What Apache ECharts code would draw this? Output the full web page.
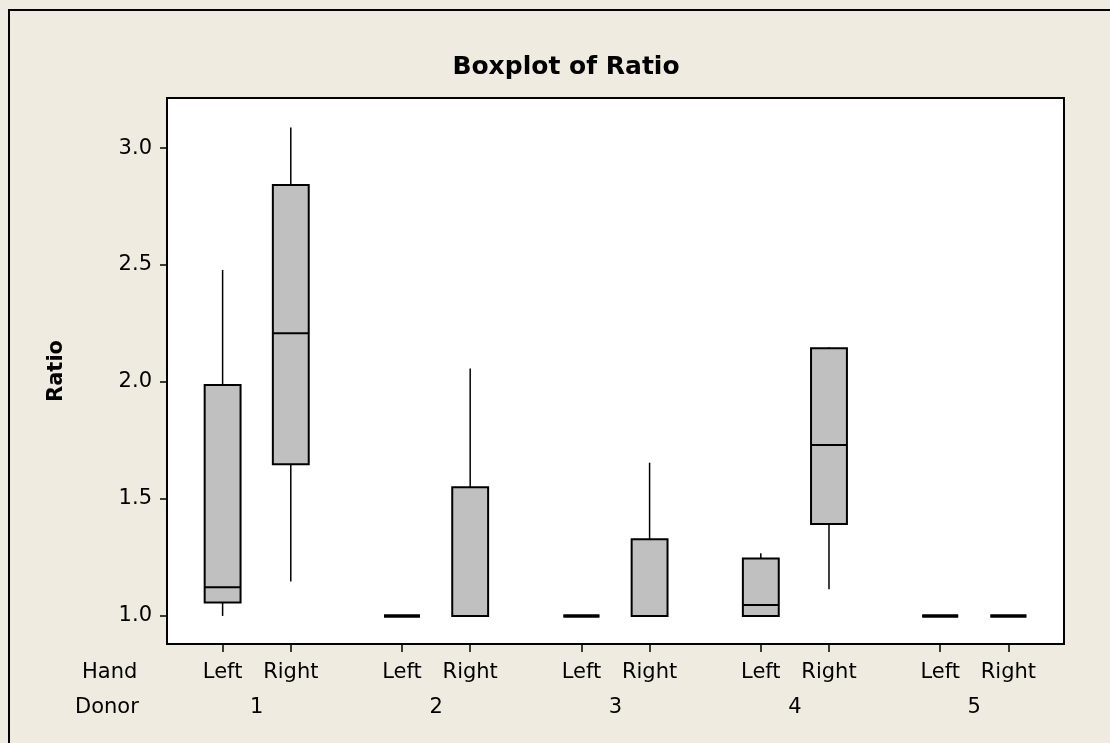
<!DOCTYPE html>
<html>
<head>
<meta charset="utf-8">
<script src="https://cdn.jsdelivr.net/npm/echarts@6/dist/echarts.min.js"></script>
<style>
  html, body { margin: 0; padding: 0; background: #EFEBE0; }
  #chart { width: 1110px; height: 743px; }
</style>
</head>
<body>
<div id="chart"></div>
<script>
// ---- data ----
const donors = ['1', '2', '3', '4', '5'];
const hands = ['Left', 'Right'];
const yTickValues = [1.0, 1.5, 2.0, 2.5, 3.0];
// order: D1 Left, D1 Right, D2 Left, D2 Right, ...
const whiskerLow  = [1.000, 1.147, 1.000, 1.000, 1.000, 1.000, 1.000, 1.114, 1.000, 1.000];
const q1Values    = [1.057, 1.648, 1.000, 1.000, 1.000, 1.000, 1.000, 1.393, 1.000, 1.000];
const medians     = [1.123, 2.208, 1.000, 1.000, 1.000, 1.000, 1.047, 1.731, 1.000, 1.000];
const q3Values    = [1.987, 2.842, 1.000, 1.550, 1.000, 1.328, 1.245, 2.144, 1.000, 1.000];
const whiskerHigh = [2.479, 3.088, 1.000, 2.058, 1.000, 1.655, 1.268, 2.149, 1.000, 1.000];

// ---- layout constants ----
const HALF = 0.19;   // offset of Left / Right from donor centre (x-axis units)
const BOX_W = 0.2;   // box width (x-axis units)
const FONT = '"DejaVu Sans", Verdana, sans-serif';

const boxData = [];
const handPositions = [];
donors.forEach((d, di) => {
  hands.forEach((h, hi) => {
    const i = di * 2 + hi;
    const x = (di + 1) + (hi === 0 ? -HALF : HALF);
    handPositions.push(x);
    boxData.push([x, whiskerLow[i], q1Values[i], medians[i], q3Values[i], whiskerHigh[i]]);
  });
});
const donorPositions = donors.map((d, i) => i + 1);

function handLabel(v) {
  let best = 0;
  handPositions.forEach((p, i) => { if (Math.abs(p - v) < Math.abs(handPositions[best] - v)) best = i; });
  return hands[best % 2];
}

function renderBox(params, api) {
  const x = api.value(0);
  const lo = api.coord([x, api.value(1)]);
  const q1 = api.coord([x, api.value(2)]);
  const md = api.coord([x, api.value(3)]);
  const q3 = api.coord([x, api.value(4)]);
  const hi = api.coord([x, api.value(5)]);
  const w = api.size([BOX_W, 0])[0];
  const cx = lo[0];
  const lineStyle = { stroke: '#000', lineWidth: 1.5 };
  const children = [];
  if (lo[1] - q1[1] > 0.5) {
    children.push({ type: 'line', shape: { x1: cx, y1: lo[1], x2: cx, y2: q1[1] }, style: lineStyle });
  }
  if (q3[1] - hi[1] > 0.5) {
    children.push({ type: 'line', shape: { x1: cx, y1: hi[1], x2: cx, y2: q3[1] }, style: lineStyle });
  }
  const flat = q1[1] - q3[1] < 0.5;
  children.push({
    type: 'rect',
    shape: { x: cx - w / 2, y: q3[1], width: w, height: q1[1] - q3[1] },
    style: { fill: '#C0C0C0', stroke: '#000', lineWidth: flat ? 3 : 2 }
  });
  children.push({ type: 'line', shape: { x1: cx - w / 2, y1: md[1], x2: cx + w / 2, y2: md[1] }, style: { stroke: '#000', lineWidth: flat ? 3 : 2 } });
  return { type: 'group', children: children };
}

const chart = echarts.init(document.getElementById('chart'), null, { renderer: 'canvas' });
chart.setOption({
  backgroundColor: '#EFEBE0',
  animation: false,
  title: {
    text: 'Boxplot of Ratio',
    left: 561,
    textAlign: 'center',
    top: 50,
    textStyle: { fontFamily: FONT, fontWeight: 'bold', fontSize: 25, color: '#000' }
  },
  graphic: [
    {
      type: 'rect', silent: true,
      shape: { x: 9, y: 10, width: 1300, height: 900 },
      style: { fill: 'none', stroke: '#000', lineWidth: 2 }
    },
    {
      type: 'text', left: 82, top: 662,
      style: { text: 'Hand', font: '21px ' + FONT, fill: '#000' }
    },
    {
      type: 'text', left: 75, top: 697,
      style: { text: 'Donor', font: '21px ' + FONT, fill: '#000' }
    }
  ],
  grid: {
    left: 167, top: 98, right: 46, bottom: 99,
    show: true, backgroundColor: '#fff', borderColor: '#000', borderWidth: 2
  },
  xAxis: [
    {
      type: 'value', min: 0.5, max: 5.5,
      splitLine: { show: false },
      axisLine: { show: true, lineStyle: { color: '#000', width: 2 } },
      axisTick: { show: true, customValues: handPositions, length: 8, lineStyle: { color: '#000', width: 1.5 } },
      axisLabel: {
        customValues: handPositions, margin: 18,
        formatter: handLabel,
        fontFamily: FONT, fontSize: 21, color: '#000'
      }
    },
    {
      type: 'value', min: 0.5, max: 5.5, position: 'bottom',
      splitLine: { show: false },
      axisLine: { show: false },
      axisTick: { show: false },
      axisLabel: {
        customValues: donorPositions, margin: 53,
        formatter: v => donors[Math.round(v) - 1],
        fontFamily: FONT, fontSize: 21, color: '#000'
      }
    }
  ],
  yAxis: {
    type: 'value', min: 0.88, max: 3.214,
    name: 'Ratio', nameLocation: 'middle', nameGap: 100, nameRotate: 90,
    nameTextStyle: { fontFamily: FONT, fontWeight: 'bold', fontSize: 21, color: '#000' },
    splitLine: { show: false },
    axisLine: { show: true, lineStyle: { color: '#000', width: 2 } },
    axisTick: { show: true, customValues: yTickValues, length: 7, lineStyle: { color: '#000', width: 1.5 } },
    axisLabel: {
      customValues: yTickValues, margin: 15,
      formatter: v => Number(v).toFixed(1),
      fontFamily: FONT, fontSize: 21, color: '#000'
    }
  },
  series: [{
    type: 'custom',
    renderItem: renderBox,
    encode: { x: 0, y: [1, 2, 3, 4, 5] },
    data: boxData,
    z: 5
  }]
});
</script>
</body>
</html>
